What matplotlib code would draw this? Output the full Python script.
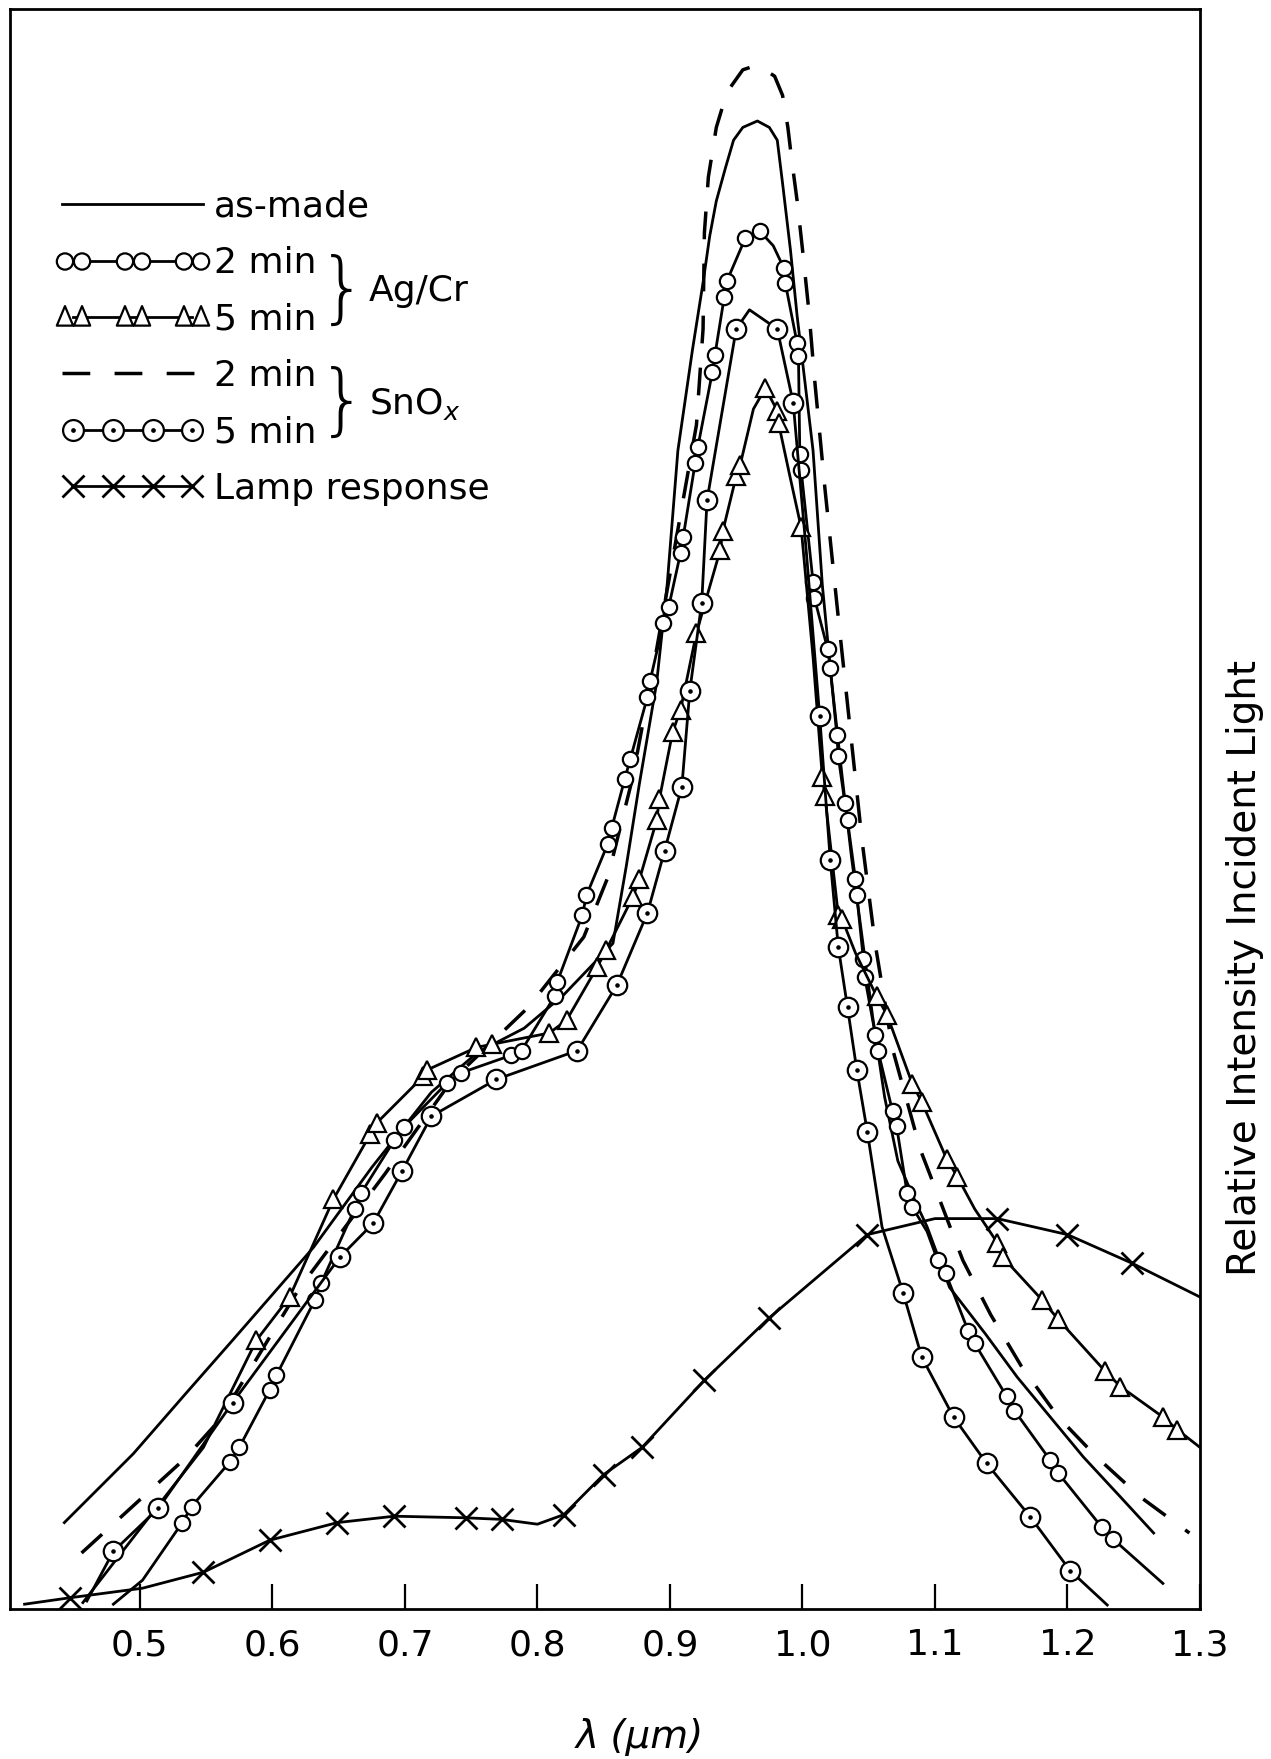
import numpy as np
import matplotlib
matplotlib.use("Agg")
import matplotlib.pyplot as plt
from matplotlib.path import Path
from matplotlib.lines import Line2D
from matplotlib.legend_handler import HandlerLine2D

# ---------------- data ----------------
xticks = [0.5, 0.6, 0.7, 0.8, 0.9, 1.0, 1.1, 1.2, 1.3]
xtick_labels = ["0.5", "0.6", "0.7", "0.8", "0.9", "1.0", "1.1", "1.2", "1.3"]

legend_labels = ["as-made", "2 min", "5 min", "2 min", "5 min", "Lamp response"]
group_labels = ["Ag/Cr", "SnO$_x$"]

# as-made (solid)
asmade_lam = [0.443, 0.495, 0.535, 0.570, 0.631, 0.675, 0.720, 0.755, 0.790, 0.820,
              0.857, 0.867, 0.877, 0.890, 0.898, 0.906, 0.917, 0.925, 0.930, 0.935,
              0.942, 0.948, 0.955, 0.966, 0.975, 0.981, 0.985, 0.991, 0.996, 1.002,
              1.008, 1.015, 1.022, 1.030, 1.037, 1.045, 1.053, 1.062, 1.072, 1.085,
              1.094, 1.111, 1.138, 1.162, 1.190, 1.212, 1.240, 1.265]
asmade_val = [5.4, 9.7, 13.5, 16.8, 22.6, 27.6, 32.3, 34.8, 36.3, 38.4,
              41.6, 46.4, 51.6, 57.9, 64.1, 72.4, 78.7, 82.9, 85.8, 88.0,
              90.1, 91.8, 92.6, 93.0, 92.6, 91.8, 89.1, 84.9, 80.8, 76.6,
              72.4, 64.0, 58.0, 52.0, 47.0, 42.0, 37.0, 32.0, 28.0, 25.5,
              23.9, 20.1, 17.2, 14.5, 11.7, 9.5, 7.0, 4.75]

# Ag/Cr 2 min (pairs of circles)
agcr2_lam = [0.480, 0.502, 0.532, 0.539, 0.568, 0.575, 0.598, 0.603, 0.632, 0.637,
             0.662, 0.667, 0.692, 0.699, 0.732, 0.742, 0.780, 0.788, 0.813, 0.815,
             0.834, 0.837, 0.853, 0.856, 0.866, 0.870, 0.883, 0.885, 0.895, 0.899,
             0.908, 0.910, 0.919, 0.921, 0.932, 0.934, 0.941, 0.943, 0.957, 0.968,
             0.978, 0.986, 0.987, 0.996, 0.997, 0.998, 0.999, 1.008, 1.009, 1.019,
             1.021, 1.026, 1.027, 1.032, 1.034, 1.040, 1.041, 1.046, 1.047, 1.055,
             1.057, 1.068, 1.071, 1.079, 1.083, 1.094, 1.102, 1.108, 1.125, 1.130,
             1.154, 1.160, 1.187, 1.193, 1.226, 1.234, 1.272]
agcr2_val = [0.3, 1.8, 5.4, 6.4, 9.2, 10.1, 13.7, 14.6, 19.3, 20.4,
             25.0, 26.0, 29.3, 30.1, 32.9, 33.5, 34.6, 34.9, 38.3, 39.2,
             43.4, 44.6, 47.8, 48.8, 51.9, 53.1, 57.0, 58.0, 61.6, 62.6,
             66.0, 67.0, 71.6, 72.6, 77.3, 78.4, 82.0, 83.0, 85.7, 86.1,
             85.2, 83.8, 82.9, 79.1, 78.3, 72.2, 71.2, 64.2, 63.2, 60.0,
             58.8, 54.6, 53.3, 50.4, 49.3, 45.6, 44.6, 40.6, 39.5, 35.9,
             34.9, 31.1, 30.2, 26.0, 25.1, 23.6, 21.8, 21.0, 17.4, 16.6,
             13.3, 12.4, 9.3, 8.5, 5.1, 4.4, 1.6]
agcr2_mark = [0, 0, 1, 1, 1, 1, 1, 1, 1, 1,
              1, 1, 1, 1, 1, 1, 1, 1, 1, 1,
              1, 1, 1, 1, 1, 1, 1, 1, 1, 1,
              1, 1, 1, 1, 1, 1, 1, 1, 1, 1,
              0, 1, 1, 1, 1, 1, 1, 1, 1, 1,
              1, 1, 1, 1, 1, 1, 1, 1, 1, 1,
              1, 1, 1, 1, 1, 0, 1, 1, 1, 1,
              1, 1, 1, 1, 1, 1, 0]

# Ag/Cr 5 min (triangles)
agcr5_lam = [0.457, 0.500, 0.548, 0.588, 0.613, 0.646, 0.674, 0.679, 0.714, 0.717,
             0.754, 0.766, 0.809, 0.822, 0.845, 0.852, 0.872, 0.877, 0.890, 0.892,
             0.902, 0.908, 0.920, 0.938, 0.940, 0.950, 0.953, 0.963, 0.972, 0.981,
             0.982, 0.990, 0.999, 1.008, 1.015, 1.017, 1.027, 1.030, 1.040, 1.056,
             1.064, 1.083, 1.090, 1.109, 1.117, 1.130, 1.147, 1.151, 1.181, 1.193,
             1.228, 1.240, 1.272, 1.283, 1.300]
agcr5_val = [0.4, 5.0, 10.1, 16.8, 19.5, 25.6, 29.7, 30.4, 33.3, 33.7,
             35.1, 35.3, 36.0, 36.8, 40.1, 41.2, 44.5, 45.6, 49.3, 50.6,
             54.8, 56.2, 61.0, 66.2, 67.4, 70.8, 71.5, 75.0, 76.3, 74.9,
             74.1, 71.0, 67.6, 59.5, 52.0, 50.8, 43.4, 43.1, 41.0, 38.3,
             37.1, 32.8, 31.7, 28.1, 27.0, 25.0, 22.9, 22.0, 19.3, 18.1,
             14.9, 13.9, 12.0, 11.2, 10.1]
agcr5_mark = [0, 0, 0, 1, 1, 1, 1, 1, 1, 1,
              1, 1, 1, 1, 1, 1, 1, 1, 1, 1,
              1, 1, 1, 1, 1, 1, 1, 0, 1, 1,
              1, 0, 1, 0, 1, 1, 1, 1, 0, 1,
              1, 1, 1, 1, 1, 0, 1, 1, 1, 1,
              1, 1, 1, 1, 0]

# SnOx 2 min (dashed)
snox2_lam = [0.456, 0.534, 0.560, 0.620, 0.685, 0.735, 0.793, 0.835, 0.853, 0.872,
             0.890, 0.905, 0.920, 0.925, 0.926, 0.929, 0.935, 0.943, 0.955, 0.966,
             0.979, 0.985, 0.989, 0.992, 0.996, 1.000, 1.005, 1.009, 1.013, 1.017,
             1.022, 1.027, 1.036, 1.045, 1.055, 1.068, 1.089, 1.103, 1.121, 1.142,
             1.165, 1.193, 1.222, 1.255, 1.292]
snox2_val = [3.5, 9.4, 11.8, 20.0, 27.2, 33.0, 37.6, 42.0, 45.7, 52.0,
             60.0, 67.0, 74.0, 80.0, 86.0, 89.5, 92.6, 94.8, 96.2, 96.5,
             95.8, 94.6, 92.6, 90.5, 88.0, 85.0, 81.0, 77.0, 73.5, 70.0,
             66.0, 62.0, 55.0, 48.0, 41.5, 35.0, 28.7, 25.7, 21.8, 18.4,
             15.2, 12.0, 9.5, 7.0, 4.75]

# SnOx 5 min (single circles)
snox5_lam = [0.460, 0.480, 0.514, 0.570, 0.651, 0.676, 0.698, 0.720, 0.769, 0.830,
             0.860, 0.883, 0.896, 0.909, 0.915, 0.924, 0.928, 0.950, 0.960, 0.981,
             0.993, 1.003, 1.013, 1.021, 1.027, 1.034, 1.041, 1.049, 1.060, 1.076,
             1.090, 1.114, 1.139, 1.172, 1.202, 1.230]
snox5_val = [0.5, 3.6, 6.3, 12.9, 22.0, 24.1, 27.4, 30.8, 33.1, 34.9,
             39.0, 43.5, 47.4, 51.4, 57.4, 62.9, 69.3, 80.0, 81.2, 80.0,
             75.4, 66.0, 55.8, 46.8, 41.4, 37.6, 33.7, 29.8, 23.9, 19.75,
             15.75, 12.0, 9.1, 5.75, 2.4, 0.25]
snox5_mark = [0, 1, 1, 1, 1, 1, 1, 1, 1, 1,
              1, 1, 1, 1, 1, 1, 1, 1, 0, 1,
              1, 0, 1, 1, 1, 1, 1, 1, 0, 1,
              1, 1, 1, 1, 1, 0]

# Lamp response (crosses)
lamp_lam = [0.413, 0.447, 0.502, 0.548, 0.598, 0.649, 0.692, 0.746, 0.773, 0.800,
            0.820, 0.850, 0.879, 0.926, 0.975, 1.049, 1.100, 1.147, 1.200, 1.249, 1.300]
lamp_val = [0.3, 0.7, 1.3, 2.3, 4.3, 5.4, 5.8, 5.7, 5.6, 5.3,
            5.9, 8.4, 10.1, 14.3, 18.2, 23.4, 24.4, 24.4, 23.4, 21.6, 19.5]
lamp_mark = [0, 1, 0, 1, 1, 1, 1, 1, 1, 0,
             1, 1, 1, 1, 1, 1, 0, 1, 1, 1, 0]

# ---------------- styling ----------------
W, H, DPI = 1271, 1759, 100
fig = plt.figure(figsize=(W / DPI, H / DPI), dpi=DPI)
ax = fig.add_axes([10 / W, 1 - 1609 / H, 1190 / W, 1600 / H])

LW = 2.0
pair_circle = Path.make_compound_path(Path.circle((-1.05, 0), 1), Path.circle((1.05, 0), 1))
tri = lambda cx: Path([(cx - 1, -1), (cx, 1.4), (cx + 1, -1), (cx - 1, -1)],
                      [Path.MOVETO, Path.LINETO, Path.LINETO, Path.CLOSEPOLY])
pair_tri = Path.make_compound_path(tri(-1.05), tri(1.05))
dot_circle = Path.make_compound_path(Path.circle((0, 0), 1), Path.circle((0, 0), 0.12))


def idx(flags):
    return [i for i, f in enumerate(flags) if f]


ax.plot(asmade_lam, asmade_val, color="k", lw=LW, zorder=2)
ax.plot(snox2_lam, snox2_val, color="k", lw=LW + 0.5, ls=(0, (8, 7)), zorder=2)
ax.plot(agcr2_lam, agcr2_val, color="k", lw=LW, marker="o", ms=11,
        mfc="white", mec="k", mew=1.6, markevery=idx(agcr2_mark), zorder=3)
ax.plot(agcr5_lam, agcr5_val, color="k", lw=LW, marker="^", ms=13,
        mfc="white", mec="k", mew=1.6, markevery=idx(agcr5_mark), zorder=3)
ax.plot(snox5_lam, snox5_val, color="k", lw=LW, marker=dot_circle, ms=14,
        mfc="white", mec="k", mew=1.6, markevery=idx(snox5_mark), zorder=3)
ax.plot(lamp_lam, lamp_val, color="k", lw=LW, marker="x", ms=16,
        mec="k", mew=2.0, markevery=idx(lamp_mark), zorder=3)

ax.set_xlim(0.402, 1.30)
ax.set_ylim(0, 100)
ax.set_yticks([])
ax.set_xticks(xticks)
ax.set_xticklabels(xtick_labels, family=["Liberation Sans Narrow", "DejaVu Sans"], fontsize=26)
ax.tick_params(axis="x", direction="in", length=18, width=1.6, pad=14, top=False)
for s in ax.spines.values():
    s.set_linewidth(2.0)
    s.set_color("k")

# legend
h_asmade = Line2D([], [], color="k", lw=LW)
h_agcr2 = Line2D([], [], color="k", lw=LW, marker=pair_circle, ms=24, mfc="white", mec="k", mew=1.6)
h_agcr5 = Line2D([], [], color="k", lw=LW, marker=pair_tri, ms=24, mfc="white", mec="k", mew=1.6)
h_snox2 = Line2D([], [], color="k", lw=LW + 0.5, ls=(0, (8, 7)))
h_snox5 = Line2D([], [], color="k", lw=LW, marker=dot_circle, ms=15, mfc="white", mec="k", mew=1.6)
h_lamp = Line2D([], [], color="k", lw=LW, marker="x", ms=16, mec="k", mew=2.0)
handles = [h_asmade, h_agcr2, h_agcr5, h_snox2, h_snox5, h_lamp]
hmap = {h_agcr2: HandlerLine2D(numpoints=3), h_agcr5: HandlerLine2D(numpoints=3),
        h_snox5: HandlerLine2D(numpoints=4), h_lamp: HandlerLine2D(numpoints=4)}
leg = ax.legend(handles, legend_labels, loc="upper left", bbox_to_anchor=(0.044, 0.887),
                frameon=False, fontsize=26, handlelength=3.9, handletextpad=0.3,
                labelspacing=0.62, borderaxespad=0, borderpad=0, handler_map=hmap)

fig.canvas.draw()
rend = fig.canvas.get_renderer()
bbs = [t.get_window_extent(rend) for t in leg.get_texts()]
for (i, j), glabel in zip([(1, 2), (3, 4)], group_labels):
    xr = max(bbs[i].x1, bbs[j].x1)
    yc = (bbs[i].y0 + bbs[i].y1 + bbs[j].y0 + bbs[j].y1) / 4
    fig.text((xr + 26) / W, yc / H, "}", fontsize=56, ha="center", va="center",
             family="DejaVu Sans", fontweight="light")
    fig.text((xr + 52) / W, yc / H, glabel, fontsize=26, ha="left", va="center",
             family="DejaVu Sans")

fig.text(1245 / W, 1 - 968 / H, "Relative Intensity Incident Light", rotation=90,
         fontsize=28, ha="center", va="center", family="DejaVu Sans")
fig.text(640 / W, 1 - 1737 / H, "λ (μm)", fontsize=28, ha="center", va="center",
         family="DejaVu Sans", style="italic")

fig.savefig("out.png", dpi=DPI)
